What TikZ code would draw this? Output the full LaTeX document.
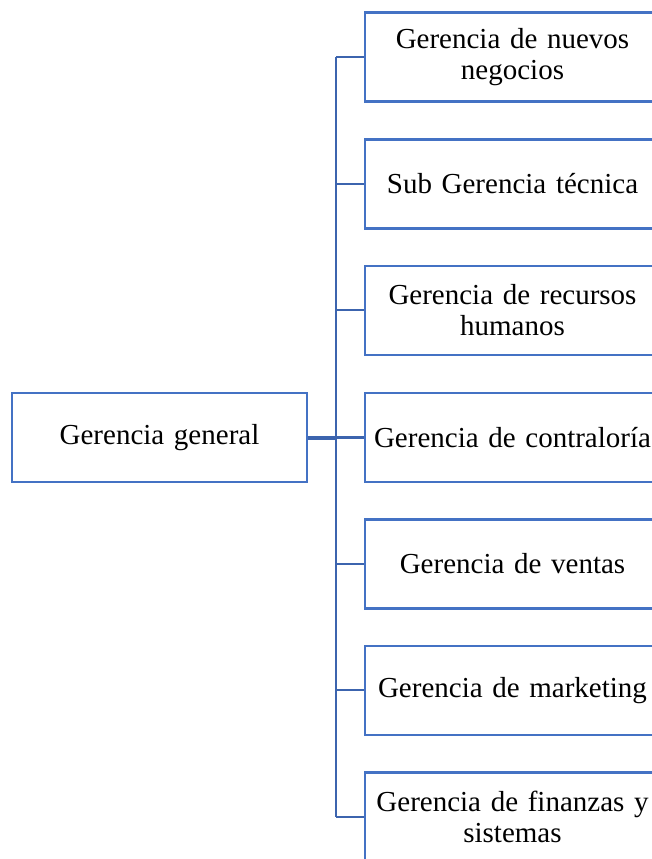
\documentclass[tikz,border=0pt]{standalone}
\usepackage{fontspec}
\setmainfont{Liberation Serif}
\definecolor{boxblue}{HTML}{4472C4}
\definecolor{lineblue}{HTML}{3C64AE}
\begin{document}
\begin{tikzpicture}[x=1pt,y=-1pt,
  orgbox/.style={draw=boxblue,line width=2.6pt,minimum width=295pt,minimum height=89pt,
    inner sep=0pt,text width=290pt,align=center,font=\fontsize{29}{31}\selectfont},
  conn/.style={draw=lineblue,line width=2.2pt},
  thickconn/.style={draw=lineblue,line width=4pt}]
\useasboundingbox (0,0) rectangle (652,859);
\node[orgbox] (gen) at (159.5,437.5) {Gerencia general};
\node[orgbox] (b1) at (512.5,57) {Gerencia de nuevos\\negocios};
\node[orgbox] (b2) at (512.5,183.7) {Sub Gerencia técnica};
\node[orgbox] (b3) at (512.5,310.3) {Gerencia de recursos\\humanos};
\node[orgbox] (b4) at (512.5,437.5) {Gerencia de contraloría};
\node[orgbox] (b5) at (512.5,563.7) {Gerencia de ventas};
\node[orgbox] (b6) at (512.5,690.3) {Gerencia de marketing};
\node[orgbox] (b7) at (512.5,817) {Gerencia de finanzas y\\sistemas};
\coordinate (ttop) at (336,57);
\coordinate (tbot) at (336,817);
\coordinate (tmid) at (336,437.5);
\draw[conn] (ttop) -- (tbot);
\draw[thickconn] (gen.east) -- (tmid);
\foreach \b in {b1,b2,b3,b4,b5,b6,b7}{
  \draw[conn] (\b.west) -- (ttop |- \b.west);
}
\end{tikzpicture}
\end{document}
